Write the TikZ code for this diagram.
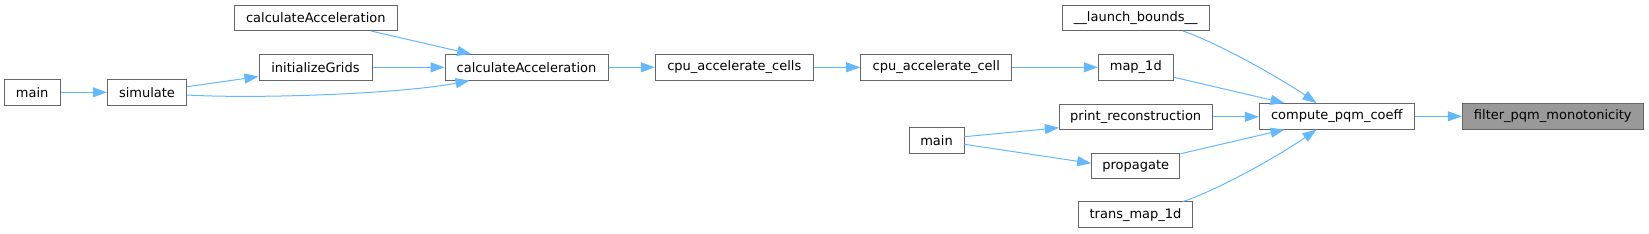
\documentclass[tikz,border=0pt]{standalone}
\usepackage{fontspec}
\setmainfont{DejaVu Sans}
\usetikzlibrary{arrows.meta,calc}
\definecolor{edgec}{HTML}{63B8FF}
\definecolor{boxc}{HTML}{666666}
\definecolor{selc}{HTML}{999999}
\begin{document}
\begin{tikzpicture}[x=1bp,y=-1bp,
  fn/.style={draw=boxc, line width=1bp, fill=white, inner sep=0pt, minimum height=25.5bp,
    font=\fontsize{13bp}{15bp}\selectfont, text=black},
  sel/.style={fn, fill=selc},
  call/.style={draw=edgec, line width=1bp, -{Triangle[length=14bp,width=10bp]}}]
\useasboundingbox (0,0) rectangle (1649,233);
% nodes
\node[fn, minimum width=55.7bp] (mainA) at (32.2,92.3) {main};
\node[fn, minimum width=79.4bp] (simulate) at (147,92.3) {simulate};
\node[fn, minimum width=113bp] (init) at (315.5,67.3) {initializeGrids};
\node[fn, minimum width=163bp] (calcTop) at (315.8,17.8) {calculateAcceleration};
\node[fn, minimum width=163bp] (calc) at (526.5,67.3) {calculateAcceleration};
\node[fn, minimum width=158bp] (cells) at (734.3,67.3) {cpu\_accelerate\_cells};
\node[fn, minimum width=151.3bp] (cell) at (936.3,67.3) {cpu\_accelerate\_cell};
\node[fn, minimum width=147bp] (launch) at (1135.8,17.8) {\_\_launch\_bounds\_\_};
\node[fn, minimum width=75bp] (map) at (1135.8,67.3) {map\_1d};
\node[fn, minimum width=152.7bp] (print) at (1135.7,116.8) {print\_reconstruction};
\node[fn, minimum width=55bp] (mainB) at (936.5,140.5) {main};
\node[fn, minimum width=88.3bp] (prop) at (1135.8,166) {propagate};
\node[fn, minimum width=114.4bp] (trans) at (1135.5,214.7) {trans\_map\_1d};
\node[fn, minimum width=155bp] (compute) at (1336.8,116.3) {compute\_pqm\_coeff};
\node[sel, minimum width=181bp] (filter) at (1552.8,116.3) {filter\_pqm\_monotonicity};
% edges
\draw[call] (mainA.east) -- (simulate.west);
\draw[call] ($(simulate.east)+(0,-5.6)$) -- ($(init.south west)+(0,-4)$);
\draw[call] ($(simulate.east)+(0,2.7)$) .. controls (255,99) and (400,94) .. ($(calc.south west)+(25,0)$);
\draw[call] ($(calcTop.south east)+(-26.6,0)$) -- ($(calc.north west)+(26.7,0)$);
\draw[call] (init.east) -- (calc.west);
\draw[call] (calc.east) -- (cells.west);
\draw[call] (cells.east) -- (cell.west);
\draw[call] (cell.east) -- (map.west);
\draw[call] ($(launch.south east)+(-26.6,0)$) .. controls (1220,44) and (1280,78) .. ($(compute.north west)+(57.7,0)$);
\draw[call] ($(map.south east)+(0,-3.3)$) -- ($(compute.north west)+(25.7,0)$);
\draw[call] (print.east) -- (print.east -| compute.west);
\draw[call] ($(mainB.east)+(0,-3.8)$) -- ($(print.south west)+(0,-2.3)$);
\draw[call] ($(mainB.east)+(0,3.8)$) -- ($(prop.west)+(0,-2.7)$);
\draw[call] ($(prop.north east)+(0,1)$) -- ($(compute.south west)+(25.7,0)$);
\draw[call] ($(trans.north east)+(-10,0)$) .. controls (1220,189) and (1280,155) .. ($(compute.south west)+(57.7,0)$);
\draw[call] (compute.east) -- (filter.west);
\end{tikzpicture}
\end{document}
